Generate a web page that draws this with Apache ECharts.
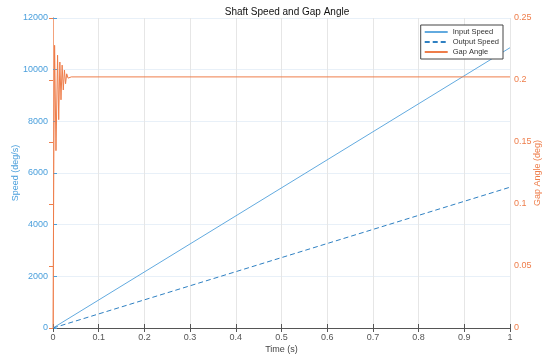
<!DOCTYPE html>
<html>
<head>
<meta charset="utf-8">
<script src="https://cdn.jsdelivr.net/npm/echarts@6/dist/echarts.min.js"></script>
<style>
  html, body { margin: 0; padding: 0; background: #fff; }
  #chart { width: 544px; height: 356px; }
</style>
</head>
<body>
<div id="chart"></div>
<script>
var chart = echarts.init(document.getElementById('chart'));

// speeds are straight ramps, only end points needed
var speedTime = [0, 1];
var inputSpeed = [0, 10850];
var outputSpeed = [0, 5450];

// gap angle: ringing at start then settles
var gapTime = [0, 0.002, 0.0035, 0.0065, 0.01, 0.0125, 0.015, 0.0175, 0.02, 0.0225, 0.025, 0.0275, 0.03, 0.033, 0.04, 1];
var gapAngle = [0, 0.15, 0.228, 0.143, 0.22, 0.168, 0.2145, 0.184, 0.212, 0.192, 0.208, 0.197, 0.205, 0.2015, 0.2025, 0.2025];

function pairs(xs, ys) {
    return xs.map(function (x, i) { return [x, ys[i]]; });
}

var font = 'Liberation Sans';
var blue = '#4a9fdc';
var orange = '#ee7d4a';

option = {
    animation: false,
    textStyle: { fontFamily: font },
    title: {
        text: 'Shaft Speed and Gap Angle',
        left: 282,
        textAlign: 'center',
        top: 2,
        textStyle: { fontSize: 10, fontWeight: 'normal', color: '#111', fontFamily: font }
    },
    legend: {
        orient: 'vertical',
        right: 41,
        top: 25,
        padding: [3, 4, 3, 3],
        itemGap: 2,
        itemWidth: 23,
        itemHeight: 8,
        borderColor: '#444',
        borderWidth: 1,
        borderRadius: 0,
        backgroundColor: '#fff',
        itemStyle: { opacity: 0 },
        textStyle: { fontSize: 7.5, color: '#333', fontFamily: font },
        data: ['Input Speed', 'Output Speed', 'Gap Angle']
    },
    grid: { left: 53, right: 34, top: 18, bottom: 28, outerBoundsMode: 'none' },
    xAxis: [{
        type: 'value',
        min: 0,
        max: 1,
        interval: 0.1,
        name: 'Time (s)',
        nameLocation: 'middle',
        nameGap: 17,
        nameMoveOverlap: false,
        nameTextStyle: { fontSize: 9, color: '#444' },
        axisLine: { onZero: false, lineStyle: { color: '#555' } },
        axisTick: { inside: true, length: 4, lineStyle: { color: '#555' } },
        axisLabel: { fontSize: 9, color: '#555', margin: 5 },
        splitLine: { show: true, lineStyle: { color: '#e6e6e6' } }
    }, {
        type: 'value',
        position: 'top',
        min: 0,
        max: 1,
        interval: 0.1,
        axisLine: { show: true, lineStyle: { color: '#555' } },
        axisTick: { inside: true, length: 4, lineStyle: { color: '#555' } },
        axisLabel: { show: false },
        splitLine: { show: false }
    }],
    yAxis: [{
        type: 'value',
        min: 0,
        max: 12000,
        interval: 2000,
        name: 'Speed (deg/s)',
        nameLocation: 'middle',
        nameGap: 33,
        nameMoveOverlap: false,
        nameTextStyle: { fontSize: 9, color: blue },
        axisLine: { show: true, lineStyle: { color: blue } },
        axisTick: { show: true, inside: true, length: 4, lineStyle: { color: blue } },
        axisLabel: { fontSize: 9, color: blue, margin: 5, formatter: function (v) { return String(v); } },
        splitLine: { show: true, lineStyle: { color: '#e8f0f8' } }
    }, {
        type: 'value',
        position: 'right',
        min: 0,
        max: 0.25,
        interval: 0.05,
        name: 'Gap Angle (deg)',
        nameLocation: 'middle',
        nameGap: 23,
        nameRotate: 90,
        nameMoveOverlap: false,
        nameTextStyle: { fontSize: 9, color: orange },
        axisLine: { show: true, lineStyle: { color: '#f3a27c' } },
        axisTick: { show: true, inside: true, length: 4, lineStyle: { color: orange } },
        axisLabel: { fontSize: 9, color: orange, margin: 4 },
        splitLine: { show: false }
    }],
    series: [
        {
            name: 'Input Speed',
            type: 'line',
            yAxisIndex: 0,
            symbol: 'none',
            color: '#62aadf',
            lineStyle: { width: 1, color: '#62aadf' },
            data: pairs(speedTime, inputSpeed)
        },
        {
            name: 'Output Speed',
            type: 'line',
            yAxisIndex: 0,
            symbol: 'none',
            color: '#2f80c2',
            lineStyle: { width: 1, type: [5, 3], color: '#2f80c2' },
            data: pairs(speedTime, outputSpeed)
        },
        {
            name: 'Gap Angle',
            type: 'line',
            yAxisIndex: 1,
            symbol: 'none',
            color: orange,
            lineStyle: { width: 1, color: orange },
            data: pairs(gapTime, gapAngle)
        }
    ]
};

option && chart.setOption(option);
</script>
</body>
</html>
